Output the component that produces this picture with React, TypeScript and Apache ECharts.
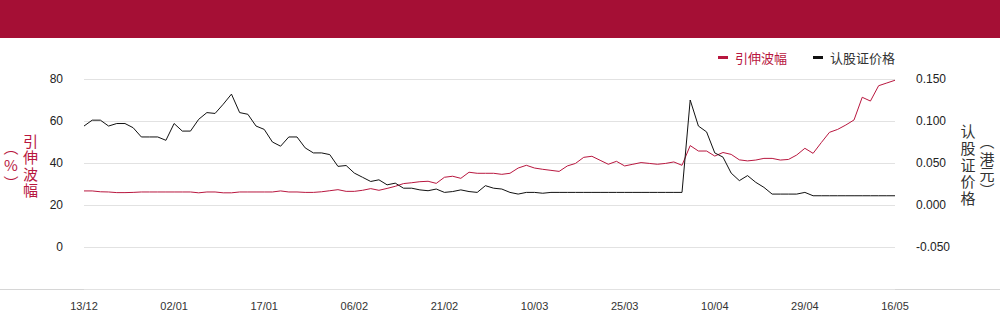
import React, { useEffect, useRef } from "react";
import * as echarts from "echarts";

const dates: string[] = [
  "13/12", "16/12", "17/12", "18/12", "19/12", "20/12", "23/12", "24/12", "27/12", "30/12", "31/12", "02/01",
  "03/01", "06/01", "07/01", "08/01", "09/01", "10/01", "13/01", "14/01", "15/01", "16/01", "17/01",
  "20/01", "21/01", "22/01", "23/01", "29/01", "30/01", "31/01", "03/02", "04/02", "05/02", "06/02",
  "07/02", "10/02", "11/02", "12/02", "13/02", "14/02", "17/02", "18/02", "19/02", "20/02", "21/02",
  "25/02", "26/02", "27/02", "28/02", "02/03", "03/03", "04/03", "05/03", "06/03", "09/03", "10/03",
  "11/03", "12/03", "13/03", "16/03", "17/03", "18/03", "19/03", "20/03", "23/03", "24/03", "25/03",
  "26/03", "27/03", "30/03", "31/03", "01/04", "02/04", "03/04", "07/04", "08/04", "09/04", "10/04",
  "15/04", "16/04", "17/04", "20/04", "21/04", "22/04", "23/04", "24/04", "27/04", "28/04", "29/04",
  "30/04", "05/05", "06/05", "07/05", "08/05", "11/05", "12/05", "13/05", "14/05", "15/05", "16/05",
];

const volatility: number[] = [
  26.7, 26.7, 26.3, 26.2, 25.9, 25.9, 26.0, 26.2, 26.2, 26.2,
  26.2, 26.2, 26.2, 26.2, 25.8, 26.2, 26.2, 25.8, 25.8, 26.2,
  26.2, 26.2, 26.2, 26.2, 26.7, 26.2, 26.2, 26.0, 26.0, 26.3,
  26.8, 27.3, 26.5, 26.5, 27.0, 27.8, 27.0, 27.9, 28.9, 30.2,
  30.6, 31.1, 31.3, 30.3, 33.2, 33.7, 32.7, 35.6, 35.1, 35.1,
  35.1, 34.6, 35.1, 37.6, 38.9, 37.6, 37.0, 36.5, 36.0, 38.6,
  39.8, 42.7, 43.2, 41.3, 39.4, 40.8, 38.6, 39.4, 40.2, 39.8,
  39.4, 39.8, 40.5, 38.9, 48.3, 45.7, 45.7, 43.3, 45.0, 44.1,
  41.5, 41.0, 41.4, 42.2, 42.2, 41.4, 41.7, 43.8, 47.0, 44.6,
  49.7, 54.6, 56.0, 58.1, 60.5, 71.3, 69.5, 76.8, 78.1, 79.4,
];

const warrantPrice: number[] = [
  0.094, 0.101, 0.101, 0.094, 0.097, 0.097, 0.092, 0.081, 0.081, 0.081,
  0.077, 0.097, 0.088, 0.088, 0.102, 0.110, 0.109, 0.120, 0.132, 0.110,
  0.108, 0.094, 0.090, 0.075, 0.070, 0.081, 0.081, 0.068, 0.062, 0.062,
  0.060, 0.046, 0.047, 0.038, 0.033, 0.028, 0.030, 0.024, 0.026, 0.020,
  0.020, 0.018, 0.017, 0.019, 0.015, 0.016, 0.018, 0.016, 0.015, 0.023,
  0.020, 0.019, 0.015, 0.013, 0.015, 0.015, 0.014, 0.015, 0.015, 0.015,
  0.015, 0.015, 0.015, 0.015, 0.015, 0.015, 0.015, 0.015, 0.015, 0.015,
  0.015, 0.015, 0.015, 0.015, 0.125, 0.094, 0.087, 0.062, 0.057, 0.038,
  0.029, 0.035, 0.027, 0.021, 0.013, 0.013, 0.013, 0.013, 0.015, 0.011,
  0.011, 0.011, 0.011, 0.011, 0.011, 0.011, 0.011, 0.011, 0.011, 0.011,
];

const seriesNames = ["引伸波幅", "认股证价格"];
const leftAxisRange = { min: -20, max: 80, interval: 20 };
const rightAxisRange = { min: -0.1, max: 0.15, interval: 0.05 };

const RED = "#B8173F";
const DARK = "#111111";
const HEADER = "#A50F35";
const NUM_FONT = "'Liberation Sans', Arial, sans-serif";
const CJK_FONT = "'Noto Sans CJK SC', sans-serif";

function vText(text: string, x: number, y: number, fill: string, lineHeight = 14) {
  return {
    type: "text",
    x,
    y,
    silent: true,
    style: {
      text,
      fill,
      fontSize: 15,
      fontFamily: CJK_FONT,
      lineHeight,
      align: "center",
      verticalAlign: "middle",
    },
  };
}

export default function App() {
  const ref = useRef<HTMLDivElement>(null);
  useEffect(() => {
    if (!ref.current) return;
    const chart = echarts.init(ref.current, undefined, { renderer: "svg" });
    chart.setOption({
      animation: false,
      backgroundColor: "#ffffff",
      grid: { left: 84, right: 105, top: 79, bottom: 35 },
      legend: {
        right: 105,
        top: 51,
        padding: 0,
        itemGap: 26,
        itemWidth: 10,
        itemHeight: 3,
        icon: "rect",
        textStyle: { fontFamily: CJK_FONT, fontSize: 13, padding: [0, 0, 0, 2] },
        data: [
          { name: seriesNames[0], textStyle: { color: RED } },
          { name: seriesNames[1], textStyle: { color: "#333333" } },
        ],
      },
      xAxis: {
        type: "category",
        data: dates,
        boundaryGap: false,
        axisLine: { show: false },
        axisTick: { show: false },
        splitLine: { show: false },
        axisLabel: {
          interval: 10,
          fontSize: 11,
          fontFamily: NUM_FONT,
          color: "#333333",
          margin: 11,
        },
      },
      yAxis: [
        {
          type: "value",
          min: leftAxisRange.min,
          max: leftAxisRange.max,
          interval: leftAxisRange.interval,
          axisLine: { show: false },
          axisTick: { show: false },
          splitLine: { show: true, lineStyle: { color: "#e2e2e2", width: 1 } },
          axisLabel: {
            showMinLabel: false,
            fontSize: 12,
            fontFamily: NUM_FONT,
            color: "#222222",
            margin: 21,
          },
        },
        {
          type: "value",
          min: rightAxisRange.min,
          max: rightAxisRange.max,
          interval: rightAxisRange.interval,
          axisLine: { show: false },
          axisTick: { show: false },
          splitLine: { show: false },
          axisLabel: {
            showMinLabel: false,
            fontSize: 12,
            fontFamily: NUM_FONT,
            color: "#222222",
            margin: 21,
            formatter: (v: number) => v.toFixed(3),
          },
        },
      ],
      series: [
        {
          name: seriesNames[0],
          type: "line",
          yAxisIndex: 0,
          data: volatility,
          showSymbol: false,
          symbol: "none",
          lineStyle: { color: RED, width: 1 },
          itemStyle: { color: RED },
        },
        {
          name: seriesNames[1],
          type: "line",
          yAxisIndex: 1,
          data: warrantPrice,
          showSymbol: false,
          symbol: "none",
          lineStyle: { color: DARK, width: 1 },
          itemStyle: { color: DARK },
        },
      ],
      graphic: [
        {
          type: "rect",
          shape: { x: 0, y: 0, width: 1000, height: 38 },
          style: { fill: HEADER },
          silent: true,
        },
        {
          type: "line",
          shape: { x1: 0, y1: 289.5, x2: 1000, y2: 289.5 },
          style: { stroke: "#d6d6d6", lineWidth: 1 },
          silent: true,
        },
        vText("引", 30.5, 140.5, RED),
        vText("伸", 30.5, 156.8, RED),
        vText("波", 30.5, 173.1, RED),
        vText("幅", 30.5, 189.4, RED),
        vText("︵", 11, 146, RED),
        vText("%", 11, 164, RED),
        vText("︶", 11, 182, RED),
        vText("认", 968, 130.4, "#333333"),
        vText("股", 968, 147.2, "#333333"),
        vText("证", 968, 164, "#333333"),
        vText("价", 968, 180.8, "#333333"),
        vText("格", 968, 197.6, "#333333"),
        vText("︵", 987, 140, "#333333"),
        vText("港", 987, 158.5, "#333333"),
        vText("元", 987, 173.5, "#333333"),
        vText("︶", 987, 189.5, "#333333"),
      ],
    });
    return () => chart.dispose();
  }, []);
  return (
    <div
      ref={ref}
      style={{ position: "absolute", left: 0, top: 0, width: 1000, height: 324 }}
    />
  );
}
